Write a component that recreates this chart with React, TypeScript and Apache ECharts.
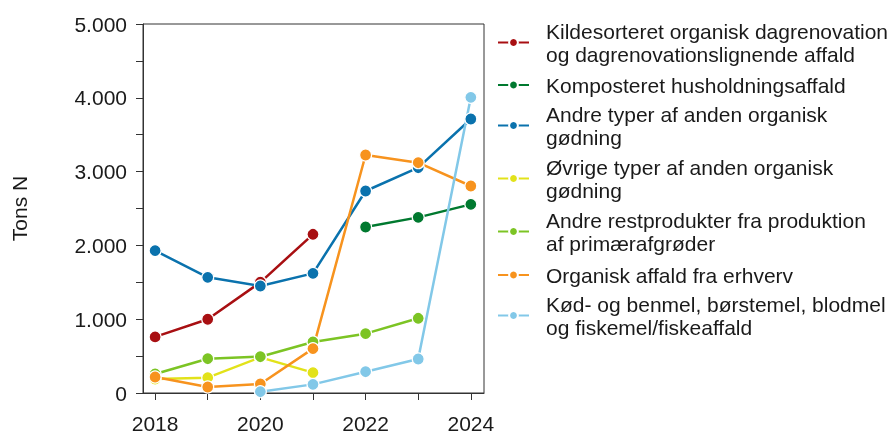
import React, { useEffect, useRef } from "react";
import * as echarts from "echarts";

const years = [2018, 2019, 2020, 2021, 2022, 2023, 2024];

const seriesNames = [
  "Kildesorteret organisk dagrenovation og dagrenovationslignende affald",
  "Komposteret husholdningsaffald",
  "Andre typer af anden organisk gødning",
  "Øvrige typer af anden organisk gødning",
  "Andre restprodukter fra produktion af primærafgrøder",
  "Organisk affald fra erhverv",
  "Kød- og benmel, børstemel, blodmel og fiskemel/fiskeaffald",
];

const legendLabels = [
  "Kildesorteret organisk dagrenovation\nog dagrenovationslignende affald",
  "Komposteret husholdningsaffald",
  "Andre typer af anden organisk\ngødning",
  "Øvrige typer af anden organisk\ngødning",
  "Andre restprodukter fra produktion\naf primærafgrøder",
  "Organisk affald fra erhverv",
  "Kød- og benmel, børstemel, blodmel\nog fiskemel/fiskeaffald",
];

const kildesorteret = [760, 1000, 1500, 2150, null, null, null];
const komposteret = [null, null, null, null, 2250, 2380, 2556];
const andreTyper = [1929, 1567, 1450, 1621, 2737, 3053, 3713];
const oevrigeTyper = [190, 208, 483, 276, null, null, null];
const restprodukter = [257, 465, 492, 691, 804, 1012, null];
const organiskErhverv = [217, 81, 122, 601, 3225, 3121, 2805];
const koedBenmel = [null, null, 18, 117, 289, 461, 4006];

const seriesValues = [
  kildesorteret,
  komposteret,
  andreTyper,
  oevrigeTyper,
  restprodukter,
  organiskErhverv,
  koedBenmel,
];

const colors = [
  "#a80f12",
  "#00792f",
  "#0a72ad",
  "#e2e21a",
  "#7cc424",
  "#f7931e",
  "#82c8e8",
];

const yTicks = [0, 1000, 2000, 3000, 4000, 5000];
const xLabelYears = [2018, 2020, 2022, 2024];

const FONT = "'Liberation Sans', Arial, sans-serif";
const TEXT = "#1a1a1a";

export default function App() {
  const ref = useRef<HTMLDivElement>(null);

  useEffect(() => {
    if (!ref.current) return;
    const chart = echarts.init(ref.current, undefined, { renderer: "svg" });

    const legendIconY = [32, 85, 115, 168, 221, 275, 305];
    const LH = 23;

    const legends = seriesNames.map((name, i) => ({
      show: true,
      data: [name],
      left: 497,
      top: legendIconY[i] - LH / 2,
      padding: 0,
      itemWidth: 31,
      itemHeight: 11,
      selectedMode: false,
      formatter: () => legendLabels[i],
      textStyle: {
        fontFamily: FONT,
        fontSize: 21,
        color: TEXT,
        lineHeight: LH,
        height: LH,
        padding: [0, 0, 0, 12],
      },
    }));

    const option = {
      animation: false,
      color: colors,
      textStyle: { fontFamily: FONT },
      legend: legends,
      grid: {
        left: 143,
        right: 412,
        top: 24,
        bottom: 42,
        show: true,
        borderColor: "#333",
        borderWidth: 1,
        containLabel: false,
      },
      xAxis: {
        type: "value",
        min: 2017.77,
        max: 2024.25,
        splitLine: { show: false },
        axisLine: { show: true, lineStyle: { color: "#333", width: 1 } },
        axisTick: {
          show: true,
          length: 7,
          lineStyle: { color: "#333" },
          customValues: years,
        },
        axisLabel: {
          customValues: xLabelYears,
          formatter: (v: number) => String(v),
          fontSize: 21,
          fontFamily: FONT,
          color: TEXT,
          margin: 20,
        },
      },
      yAxis: {
        type: "value",
        min: 0,
        max: 5000,
        interval: 500,
        name: "Tons N",
        nameLocation: "middle",
        nameGap: 113,
        nameTextStyle: { fontSize: 21, fontFamily: FONT, color: TEXT },
        splitLine: { show: false },
        axisLine: { show: true, lineStyle: { color: "#333", width: 1 } },
        axisTick: { show: true, length: 7, lineStyle: { color: "#333" } },
        axisLabel: {
          fontSize: 21,
          fontFamily: FONT,
          color: TEXT,
          margin: 16,
          formatter: (v: number) =>
            yTicks.includes(v)
              ? String(v).replace(/\B(?=(\d{3})+(?!\d))/g, ".")
              : "",
        },
      },
      series: seriesNames.map((name, i) => ({
        name,
        type: "line",
        data: years.map((y, j) => [y, seriesValues[i][j]]),
        connectNulls: false,
        symbol: "circle",
        symbolSize: 12,
        showSymbol: true,
        lineStyle: { width: 2.5, color: colors[i] },
        itemStyle: { color: colors[i], borderColor: "#fff", borderWidth: 1.2 },
        emphasis: { disabled: true },
      })),
    };

    chart.setOption(option as any);
    return () => chart.dispose();
  }, []);

  return (
    <div
      ref={ref}
      style={{ position: "fixed", left: 0, top: 0, width: 896, height: 435 }}
    />
  );
}
